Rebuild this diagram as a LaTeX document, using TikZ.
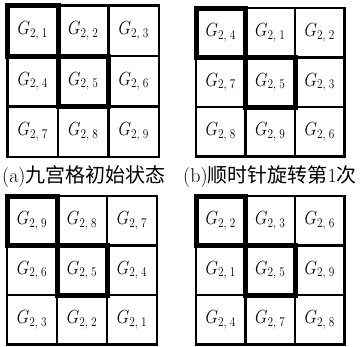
\RequirePackage{fix-cm}
\documentclass[tikz,border=0pt]{standalone}
\usepackage{fontspec}
\usepackage{graphicx}
\newfontfamily\cjk{Noto Sans CJK SC}
\newcommand\glab[1]{\scalebox{0.85}[1]{\fontsize{19}{19}\selectfont$G_{2,\;#1}$}}
\tikzset{
  gcell/.style={draw, line width=2.2pt, inner sep=0pt, outer sep=0pt, fill=white},
  thickb/.style={line width=5pt},
  caption/.style={anchor=base west, inner sep=0pt, font=\fontsize{20}{20}\selectfont}
}
\newcommand\ninegrid[6]{%
  \foreach \v [count=\i from 0] in {#6} {
    \pgfmathtruncatemacro\rr{int(\i/3)}
    \pgfmathtruncatemacro\cc{mod(\i,3)}
    \node[gcell, minimum width=#4pt, minimum height=#5pt] (#1-\i)
      at ({#2+(\cc+0.5)*#4},{#3+(\rr+0.5)*#5}) {\glab{\v}};
  }
  \draw[thickb] (#1-0.north west) rectangle (#1-0.south east);
  \draw[thickb] (#1-4.north west) rectangle (#1-4.south east);
}
\begin{document}
\begin{tikzpicture}[x=1pt,y=-1pt]
  \useasboundingbox (0,0) rectangle (362,346);
  \ninegrid{a}{7.5}{5.5}{50.5}{50.5}{1,2,3,4,5,6,7,8,9}
  \ninegrid{b}{196}{8}{49.5}{49.5}{4,1,2,7,5,3,8,9,6}
  \ninegrid{c}{7}{196}{50}{49.5}{9,8,7,6,5,4,3,2,1}
  \ninegrid{d}{196}{196}{49.5}{49.5}{2,3,6,1,5,9,4,7,8}
  \node[caption] (capa) at (2,182) {(a){\cjk 九宫格初始状态}};
  \node[caption] (capb) at (183,182) {(b){\cjk 顺时针旋转第}1{\cjk 次}};
\end{tikzpicture}
\end{document}
